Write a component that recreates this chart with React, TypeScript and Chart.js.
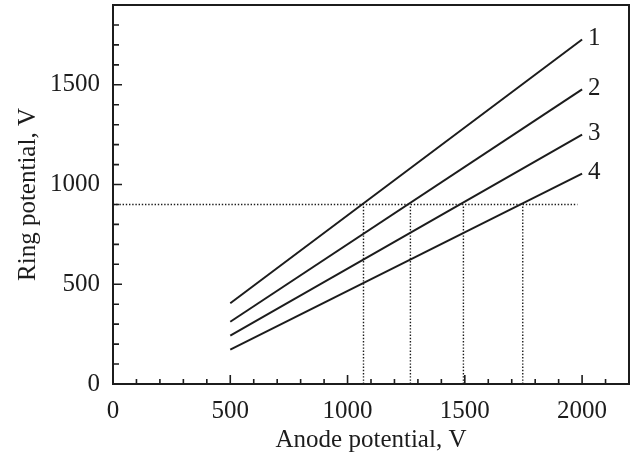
import { useEffect, useRef } from 'react';
import { Chart, registerables } from 'chart.js';

Chart.register(...registerables);

// Anode potential (V) at the start and end of each line
const anodeRange = [500, 2000];
// Ring potential (V) for lines 1..4 at anodeRange
const line1 = [405, 1727];
const line2 = [312, 1477];
const line3 = [242, 1250];
const line4 = [172, 1055];
const seriesLabels = ['1', '2', '3', '4'];
// dotted guide lines
const refLevel = 900;
const refLineEnd = 1980;
const crossings = [1068, 1268, 1494, 1747];
// axes
const xMax = 2200;
const yMax = 1900;
const minorStep = 100;
const majorStep = 500;

const FONT = '"Liberation Serif", "Times New Roman", serif';
const INK = '#1c1c1c';

const framePlugin = {
  id: 'frameAndLabels',
  afterDraw(chart: any) {
    const { ctx, chartArea, scales } = chart;
    const { left, right, top, bottom } = chartArea;
    const xs = scales.x;
    const ys = scales.y;
    ctx.save();
    ctx.strokeStyle = INK;
    ctx.lineWidth = 1.6;
    ctx.beginPath();
    xs.ticks.forEach((t: any) => {
      const px = xs.getPixelForValue(t.value);
      const len = t.value % majorStep === 0 ? 9 : 5;
      ctx.moveTo(px, bottom);
      ctx.lineTo(px, bottom - len);
    });
    ys.ticks.forEach((t: any) => {
      const py = ys.getPixelForValue(t.value);
      const len = t.value % majorStep === 0 ? 9 : 6;
      ctx.moveTo(left, py);
      ctx.lineTo(left + len, py);
    });
    ctx.stroke();
    ctx.lineWidth = 2;
    ctx.strokeRect(left, top, right - left, bottom - top);

    ctx.fillStyle = INK;
    ctx.font = `25px ${FONT}`;
    ctx.textAlign = 'left';
    ctx.textBaseline = 'middle';
    chart.data.datasets.forEach((ds: any, i: number) => {
      if (!ds.seriesLabel) return;
      const meta = chart.getDatasetMeta(i);
      const pt = meta.data[meta.data.length - 1];
      ctx.fillText(ds.seriesLabel, pt.x + 6, pt.y - 1);
    });
    ctx.restore();
  },
};

export default function App() {
  const ref = useRef<HTMLCanvasElement>(null);

  useEffect(() => {
    if (!ref.current) return;
    const solid = [line1, line2, line3, line4].map((vals, i) => ({
      label: 'Line ' + seriesLabels[i],
      seriesLabel: seriesLabels[i],
      data: anodeRange.map((x, j) => ({ x, y: vals[j] })),
      borderColor: INK,
      borderWidth: 2,
      pointRadius: 0,
      fill: false,
    }));
    const dotted = {
      borderColor: INK,
      borderWidth: 1.4,
      borderDash: [1.4, 1.8],
      pointRadius: 0,
      fill: false,
    };
    const guides = [
      { ...dotted, label: 'level', data: [{ x: 0, y: refLevel }, { x: refLineEnd, y: refLevel }] },
      ...crossings.map((cx) => ({
        ...dotted,
        label: 'cross ' + cx,
        data: [{ x: cx, y: 0 }, { x: cx, y: refLevel }],
      })),
    ];

    const chart = new Chart(ref.current, {
      type: 'line',
      data: { datasets: [...guides, ...solid] as any },
      options: {
        animation: false,
        responsive: false,
        layout: { padding: { top: 5, right: 4, left: 0, bottom: 0 } },
        plugins: { legend: { display: false }, tooltip: { enabled: false } },
        scales: {
          x: {
            type: 'linear',
            min: 0,
            max: xMax,
            grid: { display: false, drawTicks: false },
            border: { display: false },
            ticks: {
              stepSize: minorStep,
              autoSkip: false,
              maxRotation: 0,
              padding: 12,
              color: INK,
              font: { family: FONT, size: 25 },
              callback: (v: any) => (Number(v) % majorStep === 0 && Number(v) <= 2000 ? String(v) : ''),
            },
            title: {
              display: true,
              text: 'Anode potential, V',
              color: INK,
              font: { family: FONT, size: 25 },
              padding: { top: 0, bottom: 2 },
            },
            afterFit: (s: any) => {
              s.height = 73;
              s.paddingLeft = 0;
              s.paddingRight = 0;
            },
          },
          y: {
            type: 'linear',
            min: 0,
            max: yMax,
            grid: { display: false, drawTicks: false },
            border: { display: false },
            ticks: {
              stepSize: minorStep,
              autoSkip: false,
              padding: 13,
              color: INK,
              font: { family: FONT, size: 25 },
              callback: (v: any) => (Number(v) % majorStep === 0 ? String(v) : ''),
            },
            title: {
              display: true,
              text: 'Ring potential, V',
              color: INK,
              font: { family: FONT, size: 25 },
              padding: { top: 13, bottom: 0 },
            },
            afterFit: (s: any) => {
              s.width = 113;
              s.paddingTop = 0;
              s.paddingBottom = 0;
            },
          },
        },
      },
      plugins: [framePlugin],
    });
    return () => chart.destroy();
  }, []);

  return (
    <div style={{ position: 'absolute', left: 0, top: 0, width: 633, height: 457, background: '#fff' }}>
      <canvas ref={ref} width={633} height={457} />
    </div>
  );
}
